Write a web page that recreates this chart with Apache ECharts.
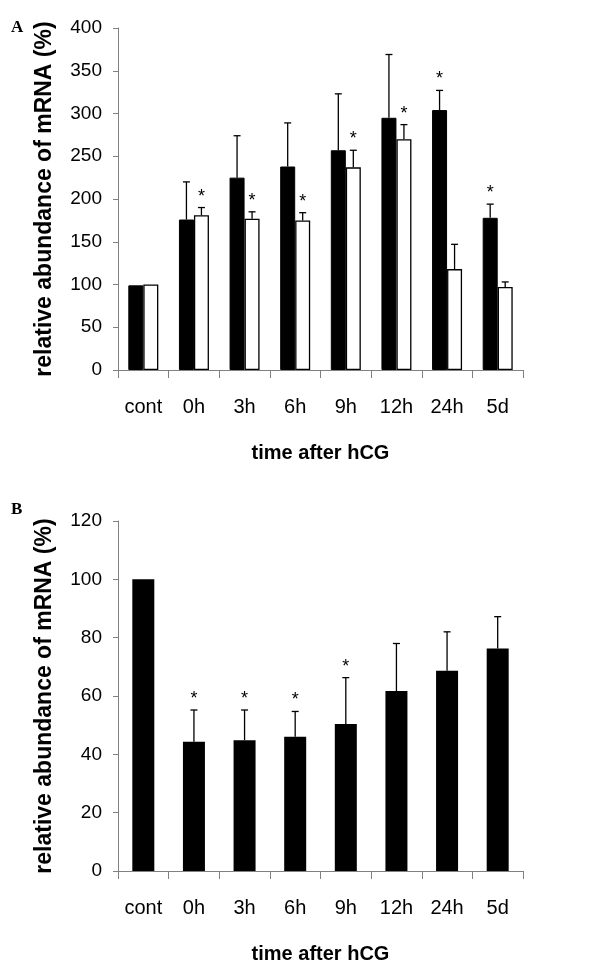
<!DOCTYPE html>
<html>
<head>
<meta charset="utf-8">
<script src="https://cdn.jsdelivr.net/npm/echarts@6/dist/echarts.min.js"></script>
<style>
  html, body { margin: 0; padding: 0; background: #fff; }
  #chart { width: 609px; height: 966px; }
</style>
</head>
<body>
<div id="chart"></div>
<script>
// categories (time after hCG)
const categories = ['cont', '0h', '3h', '6h', '9h', '12h', '24h', '5d'];

// panel A - black bars
const aBlack = [99, 176, 225, 238, 257, 295, 304, 178];
const aBlackUpper = [null, 220, 274, 289, 323, 369, 327, 194];
const aBlackSig = [0, 0, 0, 0, 0, 0, 1, 1];
// panel A - white bars
const aWhite = [100, 181, 177, 175, 237, 270, 118, 97];
const aWhiteUpper = [null, 190, 185, 184, 257, 287, 147, 103];
const aWhiteSig = [0, 1, 1, 1, 1, 1, 0, 0];

// panel B
const bBlack = [100, 44.3, 44.8, 46, 50.4, 61.7, 68.7, 76.3];
const bBlackUpper = [null, 55.2, 55.2, 54.7, 66.3, 78, 82, 87.2];
const bBlackSig = [0, 1, 1, 1, 1, 0, 0, 0];

const yTicksA = { min: 0, max: 400, interval: 50 };
const yTicksB = { min: 0, max: 120, interval: 20 };

const FONT = 'Liberation Sans, Arial, sans-serif';
const axisGrey = '#808080';

// error bar + significance star, drawn on top of bars
function errSeries(gridIdx, mean, upper, sig, dx) {
  return {
    type: 'custom',
    xAxisIndex: gridIdx,
    yAxisIndex: gridIdx,
    z: 10,
    silent: true,
    data: categories.map((c, i) => [i, mean[i], upper[i] == null ? NaN : upper[i], sig[i]]),
    renderItem: (params, api) => {
      const i = api.value(0);
      const m = api.value(1);
      const u = api.value(2);
      const s = api.value(3);
      const children = [];
      let topY = api.coord([i, m])[1];
      const x = api.coord([i, m])[0] + dx;
      if (!isNaN(u)) {
        const uy = api.coord([i, u])[1];
        children.push({
          type: 'line',
          shape: { x1: x, y1: topY, x2: x, y2: uy },
          style: { stroke: '#000', lineWidth: 1.3 }
        });
        children.push({
          type: 'line',
          shape: { x1: x - 3.5, y1: uy, x2: x + 3.5, y2: uy },
          style: { stroke: '#000', lineWidth: 1.3 }
        });
        topY = uy;
      }
      if (s) {
        children.push({
          type: 'text',
          style: {
            text: '*', x: x, y: topY - 11,
            textAlign: 'center', textVerticalAlign: 'middle',
            font: '18px ' + FONT, fill: '#000'
          }
        });
      }
      return { type: 'group', children: children };
    }
  };
}

function xAxisCfg(gridIdx) {
  return {
    type: 'category',
    gridIndex: gridIdx,
    data: categories,
    axisLine: { lineStyle: { color: axisGrey, width: 1 } },
    axisTick: { show: true, length: 8, lineStyle: { color: axisGrey } },
    axisLabel: { color: '#000', fontSize: 20, fontFamily: FONT, margin: 27 },
    name: 'time after hCG',
    nameLocation: 'middle',
    nameGap: 73,
    nameTextStyle: { color: '#000', fontSize: 20, fontWeight: 'bold', fontFamily: FONT }
  };
}

function yAxisCfg(gridIdx, t) {
  return {
    type: 'value',
    gridIndex: gridIdx,
    min: t.min, max: t.max, interval: t.interval,
    axisLine: { show: true, lineStyle: { color: axisGrey, width: 1 } },
    axisTick: { show: true, length: 5, lineStyle: { color: axisGrey } },
    splitLine: { show: false },
    axisLabel: { color: '#000', fontSize: 19, fontFamily: FONT, margin: 16 },
    name: 'relative abundance of mRNA (%)',
    nameLocation: 'middle',
    nameGap: 62,
    nameTextStyle: { color: '#000', fontSize: 23, fontWeight: 'bold', fontFamily: FONT }
  };
}

const chart = echarts.init(document.getElementById('chart'), null, { renderer: 'canvas' });

const option = {
  backgroundColor: '#fff',
  animation: false,
  grid: [
    { left: 118, top: 28, width: 405, height: 342 },
    { left: 118, top: 521, width: 405, height: 350 }
  ],
  xAxis: [xAxisCfg(0), xAxisCfg(1)],
  yAxis: [yAxisCfg(0, yTicksA), yAxisCfg(1, yTicksB)],
  graphic: [
    { type: 'text', left: 11, top: 19, style: { text: 'A', font: 'bold 17px Liberation Serif, serif', fill: '#000' } },
    { type: 'text', left: 11, top: 501, style: { text: 'B', font: 'bold 17px Liberation Serif, serif', fill: '#000' } }
  ],
  series: [
    {
      type: 'bar', xAxisIndex: 0, yAxisIndex: 0, data: aBlack,
      barWidth: 15, barGap: '0%',
      itemStyle: { color: '#000', borderColor: '#000', borderWidth: 1 }
    },
    {
      type: 'bar', xAxisIndex: 0, yAxisIndex: 0, data: aWhite,
      barWidth: 15, barGap: '0%',
      itemStyle: { color: '#fff', borderColor: '#000', borderWidth: 1.3 }
    },
    errSeries(0, aBlack, aBlackUpper, aBlackSig, -7.5),
    errSeries(0, aWhite, aWhiteUpper, aWhiteSig, 7.5),
    {
      type: 'bar', xAxisIndex: 1, yAxisIndex: 1, data: bBlack,
      barWidth: 22,
      itemStyle: { color: '#000' }
    },
    errSeries(1, bBlack, bBlackUpper, bBlackSig, 0)
  ]
};

chart.setOption(option);
</script>
</body>
</html>
